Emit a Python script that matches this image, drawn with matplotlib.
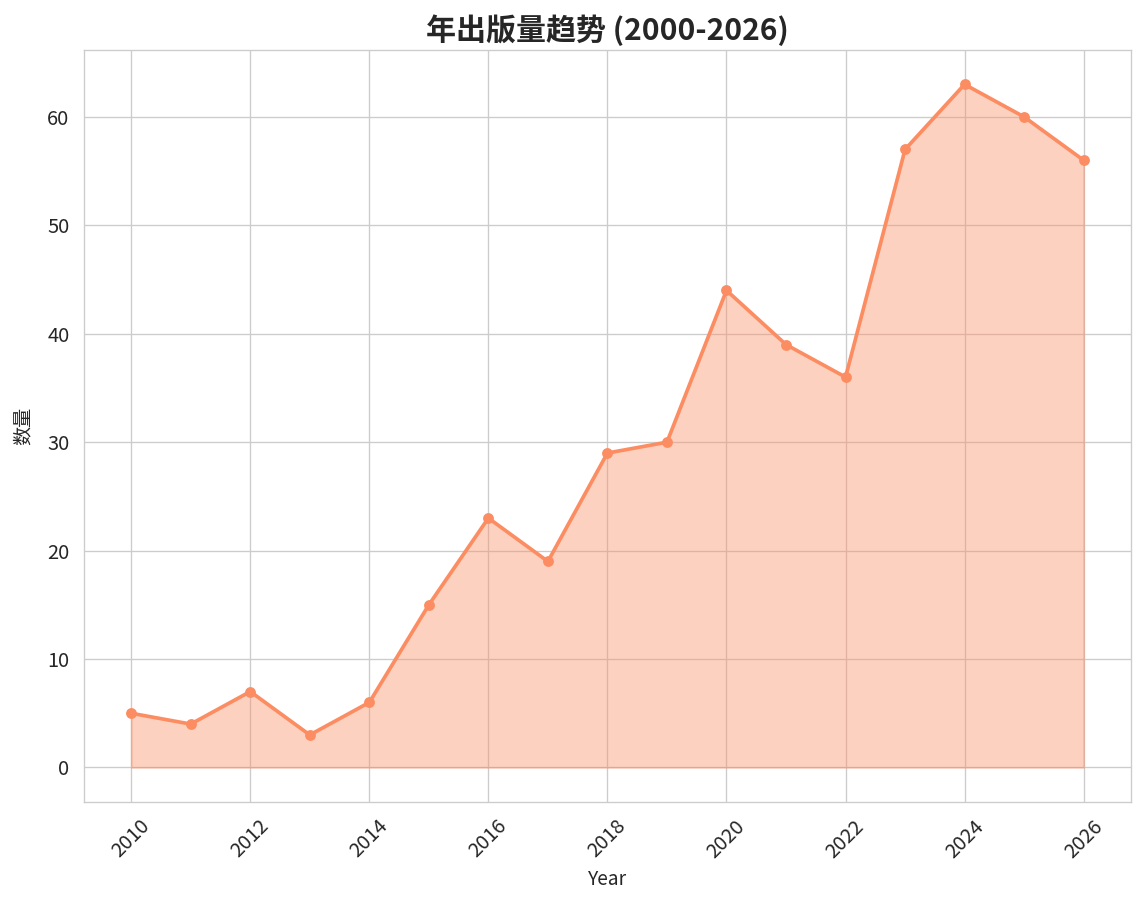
import matplotlib
matplotlib.use("Agg")
import matplotlib.pyplot as plt
import seaborn as sns

years = [2010, 2011, 2012, 2013, 2014, 2015, 2016, 2017, 2018,
         2019, 2020, 2021, 2022, 2023, 2024, 2025, 2026]
counts = [5, 4, 7, 3, 6, 15, 23, 19, 29, 30, 44, 39, 36, 57, 63, 60, 56]

sns.set_style("whitegrid")
plt.rcParams['font.family'] = ['Noto Sans CJK SC', 'DejaVu Sans']

color = '#fc8d62'
fig, ax = plt.subplots(figsize=(1145 / 120, 913 / 120), dpi=120)
fig.subplots_adjust(left=0.073, right=0.988, top=0.945, bottom=0.122)

ax.fill_between(years, counts, color=color, alpha=0.4)
ax.plot(years, counts, color=color, linewidth=2.2, marker='o', markersize=5.5)

ax.set_title('年出版量趋势 (2000-2026)', fontsize=18, fontweight='bold')
ax.set_xlabel('Year', fontsize=11.5)
ax.set_ylabel('数量', fontsize=11.5, labelpad=8)
ax.set_xticks(range(2010, 2027, 2))
plt.setp(ax.get_xticklabels(), rotation=45)
ax.tick_params(labelsize=12, pad=5)

fig.savefig('out.png', dpi=120)
